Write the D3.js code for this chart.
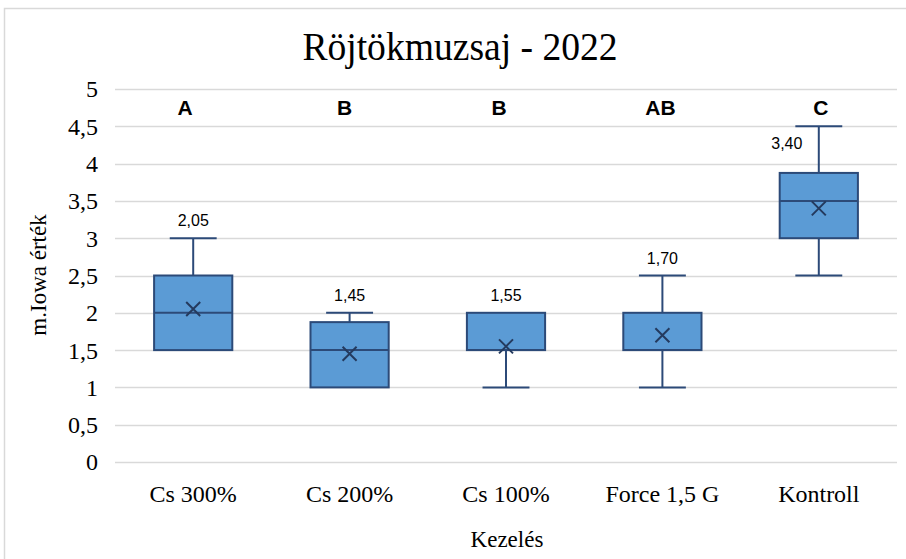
<!DOCTYPE html>
<html>
<head>
<meta charset="utf-8">
<script src="https://cdn.jsdelivr.net/npm/d3@7"></script>
<style>
  body { margin: 0; background: #fff; }
  svg text { fill: #000; }
  .serif { font-family: "Liberation Serif", "Times New Roman", "DejaVu Serif", serif; }
  .sans { font-family: "Liberation Sans", Arial, sans-serif; }
</style>
</head>
<body>
<div id="chart"></div>
<script>
// data
var categories = ["Cs 300%", "Cs 200%", "Cs 100%", "Force 1,5 G", "Kontroll"];
var whiskerLow = [1.5, 1, 1, 1, 2.5];
var q1 = [1.5, 1, 1.5, 1.5, 3];
var median = [2, 1.5, 1.5, 1.5, 3.5];
var q3 = [2.5, 1.875, 2, 2, 3.875];
var whiskerHigh = [3, 2, 2, 2.5, 4.5];
var means = [2.05, 1.45, 1.55, 1.70, 3.40];
var letters = ["A", "B", "B", "AB", "C"];
var yTicks = [0, 0.5, 1, 1.5, 2, 2.5, 3, 3.5, 4, 4.5, 5];

var W = 906, H = 559;
var margin = { top: 89, right: 9, bottom: 97, left: 115 };
var width = W - margin.left - margin.right,
    height = H - margin.top - margin.bottom;

var svg = d3.select("#chart").append("svg")
    .attr("width", W)
    .attr("height", H);

// chart border (right/bottom run off the picture)
svg.append("rect")
    .attr("x", 4.5).attr("y", 8.5)
    .attr("width", W + 10).attr("height", H + 10)
    .attr("fill", "none")
    .attr("stroke", "#d9d9d9")
    .attr("stroke-width", 1.5);

var g = svg.append("g")
    .attr("transform", "translate(" + margin.left + "," + margin.top + ")");

var x = d3.scaleBand().domain(categories).range([0, width]);
var y = d3.scaleLinear().domain([0, 5]).range([height, 0]);

var fmt = function(v) { return d3.format(".2f")(v).replace(".", ","); };
var fmtTick = function(v) { return String(v).replace(".", ","); };

// gridlines
g.selectAll(".grid").data(yTicks).enter().append("line")
    .attr("class", "grid")
    .attr("x1", 0).attr("x2", width)
    .attr("y1", function(d) { return Math.round(y(d)) + 0.5; })
    .attr("y2", function(d) { return Math.round(y(d)) + 0.5; })
    .attr("stroke", "#d9d9d9")
    .attr("stroke-width", 1.5);

// y tick labels
g.selectAll(".ytick").data(yTicks).enter().append("text")
    .attr("class", "ytick serif")
    .attr("x", -17)
    .attr("y", function(d) { return y(d); })
    .attr("dy", "0.35em")
    .attr("text-anchor", "end")
    .attr("font-size", 24)
    .text(fmtTick);

// x tick labels
g.selectAll(".xtick").data(categories).enter().append("text")
    .attr("class", "xtick serif")
    .attr("x", function(d) { return x(d) + x.bandwidth() / 2; })
    .attr("y", height + 40)
    .attr("text-anchor", "middle")
    .attr("font-size", 24)
    .text(function(d) { return d; });

var boxColor = "#5b9bd5", lineColor = "#2c4a78";
var boxW = x.bandwidth() * 0.5, capW = boxW * 0.3;

var boxes = g.selectAll(".box").data(categories).enter().append("g")
    .attr("class", "box")
    .attr("transform", function(d) { return "translate(" + (x(d) + x.bandwidth() / 2) + ",0)"; });

// whiskers
boxes.append("line")
    .attr("x1", 0).attr("x2", 0)
    .attr("y1", function(d, i) { return y(whiskerHigh[i]); })
    .attr("y2", function(d, i) { return y(q3[i]); })
    .attr("stroke", lineColor).attr("stroke-width", 2);
boxes.append("line")
    .attr("x1", 0).attr("x2", 0)
    .attr("y1", function(d, i) { return y(whiskerLow[i]); })
    .attr("y2", function(d, i) { return y(q1[i]); })
    .attr("stroke", lineColor).attr("stroke-width", 2);
boxes.filter(function(d, i) { return whiskerHigh[i] > q3[i]; }).append("line")
    .attr("x1", -capW).attr("x2", capW)
    .attr("y1", function(d) { var i = categories.indexOf(d); return y(whiskerHigh[i]); })
    .attr("y2", function(d) { var i = categories.indexOf(d); return y(whiskerHigh[i]); })
    .attr("stroke", lineColor).attr("stroke-width", 2);
boxes.filter(function(d, i) { return whiskerLow[i] < q1[i]; }).append("line")
    .attr("x1", -capW).attr("x2", capW)
    .attr("y1", function(d) { var i = categories.indexOf(d); return y(whiskerLow[i]); })
    .attr("y2", function(d) { var i = categories.indexOf(d); return y(whiskerLow[i]); })
    .attr("stroke", lineColor).attr("stroke-width", 2);

// box
boxes.append("rect")
    .attr("x", -boxW / 2)
    .attr("width", boxW)
    .attr("y", function(d, i) { return y(q3[i]); })
    .attr("height", function(d, i) { return y(q1[i]) - y(q3[i]); })
    .attr("fill", boxColor)
    .attr("stroke", lineColor).attr("stroke-width", 2);

// median
boxes.append("line")
    .attr("x1", -boxW / 2).attr("x2", boxW / 2)
    .attr("y1", function(d, i) { return y(median[i]); })
    .attr("y2", function(d, i) { return y(median[i]); })
    .attr("stroke", lineColor).attr("stroke-width", 2);

// mean marker (x)
var m = 7;
boxes.append("path")
    .attr("d", function(d, i) {
        var cy = y(means[i]);
        return "M" + (-m) + "," + (cy - m) + "L" + m + "," + (cy + m) +
               "M" + (-m) + "," + (cy + m) + "L" + m + "," + (cy - m);
    })
    .attr("stroke", "#243a5e").attr("stroke-width", 2).attr("fill", "none");

// mean labels
boxes.append("text")
    .attr("class", "sans")
    .attr("x", function(d, i) { return whiskerHigh[i] >= 4.5 ? -32 : 0; })
    .attr("y", function(d, i) {
        return whiskerHigh[i] >= 4.5 ? y(whiskerHigh[i]) + 23 : y(whiskerHigh[i]) - 12;
    })
    .attr("text-anchor", "middle")
    .attr("font-size", 16)
    .text(function(d, i) { return fmt(means[i]); });

// significance letters (hand-placed text boxes in the original, slightly off-centre)
var letterShift = [-8, -5, -7, -2, 2];
boxes.append("text")
    .attr("class", "sans")
    .attr("x", function(d, i) { return letterShift[i]; })
    .attr("y", y(4.65))
    .attr("text-anchor", "middle")
    .attr("font-weight", "bold")
    .attr("font-size", 21)
    .text(function(d, i) { return letters[i]; });

// titles
svg.append("text")
    .attr("class", "serif")
    .attr("transform", "translate(460,60) scale(0.94,1)")
    .attr("text-anchor", "middle")
    .attr("font-size", 40)
    .text("Röjtökmuzsaj - 2022");

svg.append("text")
    .attr("class", "serif")
    .attr("x", 507).attr("y", 547)
    .attr("text-anchor", "middle")
    .attr("font-size", 23)
    .text("Kezelés");

svg.append("text")
    .attr("class", "serif")
    .attr("transform", "translate(46,275) rotate(-90)")
    .attr("text-anchor", "middle")
    .attr("font-size", 23)
    .text("m.Iowa érték");
</script>
</body>
</html>
